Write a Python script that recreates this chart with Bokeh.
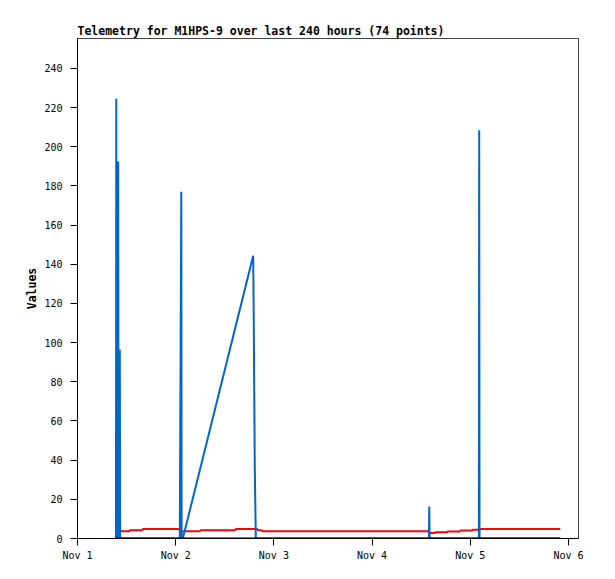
from bokeh.plotting import figure
from bokeh.models import Range1d, FixedTicker
from bokeh.embed import file_html
from bokeh.resources import INLINE

# ---- data (hours since Nov 1 00:00) ----
blue_hours = [9.40, 9.48, 9.56, 9.87, 9.95, 10.03, 10.26, 10.34, 10.42,
              25.0, 25.37, 25.45, 25.83, 42.94, 43.09, 43.33, 43.58,
              85.9, 85.98, 86.06, 98.1, 98.18, 98.26, 118.0]
blue_values = [0, 224.5, 0, 0, 192.5, 0, 0, 96.5, 0,
               0, 177.0, 0, 0.7, 144.4, 108.0, 36.2, 0,
               0, 16.3, 0, 0, 208.4, 0, 0]

red_hours = [10.5, 10.9, 12.6, 12.8, 15.8, 16.0, 24.9, 25.2, 25.8, 29.9, 30.1, 38.5, 38.7,
             43.9, 44.1, 45.0, 45.3, 85.7, 85.9, 87.3, 87.5, 90.3, 90.5, 93.5, 93.7, 96.4,
             96.6, 98.4, 98.6, 118.0]
red_values = [4.0, 3.7, 3.7, 4.2, 4.2, 4.8, 4.8, 2.8, 3.7, 3.7, 4.2, 4.2, 4.8,
              4.8, 4.2, 4.2, 3.7, 3.7, 2.8, 2.8, 3.2, 3.2, 3.6, 3.6, 4.1, 4.1,
              4.5, 4.5, 4.8, 4.8]

black_hours = [9.2, 118.0]
black_values = [0, 0]

x_ticks = [0, 24, 48, 72, 96, 120]
x_tick_labels = ["Nov 1", "Nov 2", "Nov 3", "Nov 4", "Nov 5", "Nov 6"]
y_ticks = [0, 20, 40, 60, 80, 100, 120, 140, 160, 180, 200, 220, 240]

MONO = "DejaVu Sans Mono"

p = figure(width=615, height=579,
           x_range=Range1d(0, 122.45), y_range=Range1d(0, 255.3),
           output_backend="svg", toolbar_location=None,
           min_border_left=77, min_border_right=37,
           min_border_top=38, min_border_bottom=41,
           title="Telemetry for M1HPS-9 over last 240 hours (74 points)")

p.title.text_font = MONO
p.title.text_font_size = "11.5px"
p.title.text_font_style = "bold"
p.title.text_color = "black"
p.title.align = "left"
p.title.offset = 0
p.title.standoff = 2

p.background_fill_color = "white"
p.border_fill_color = "white"
p.outline_line_color = "#444444"
p.outline_line_width = 1
p.grid.visible = False

p.line(red_hours, red_values, line_color="#ff0000", line_width=2)
p.line(blue_hours, blue_values, line_color="#0066cc", line_width=2)
p.line(black_hours, black_values, line_color="black", line_width=2)

p.xaxis.ticker = FixedTicker(ticks=x_ticks)
p.xaxis.major_label_overrides = {t: l for t, l in zip(x_ticks, x_tick_labels)}
p.yaxis.ticker = FixedTicker(ticks=y_ticks)
p.yaxis.axis_label = "Values"

for ax in (p.xaxis, p.yaxis):
    ax.axis_line_color = "black"
    ax.major_tick_line_color = "black"
    ax.major_tick_out = 7
    ax.major_tick_in = 0
    ax.minor_tick_line_color = None
    ax.major_label_text_font = MONO
    ax.major_label_text_font_size = "10px"
    ax.major_label_text_color = "black"
    ax.axis_label_text_font = MONO
    ax.axis_label_text_font_size = "11.5px"
    ax.axis_label_text_font_style = "bold"
    ax.axis_label_text_color = "black"

p.xaxis.major_label_standoff = 4
p.yaxis.major_label_standoff = 8
p.yaxis.axis_label_standoff = 2

open("out.html", "w").write(file_html(p, INLINE))
